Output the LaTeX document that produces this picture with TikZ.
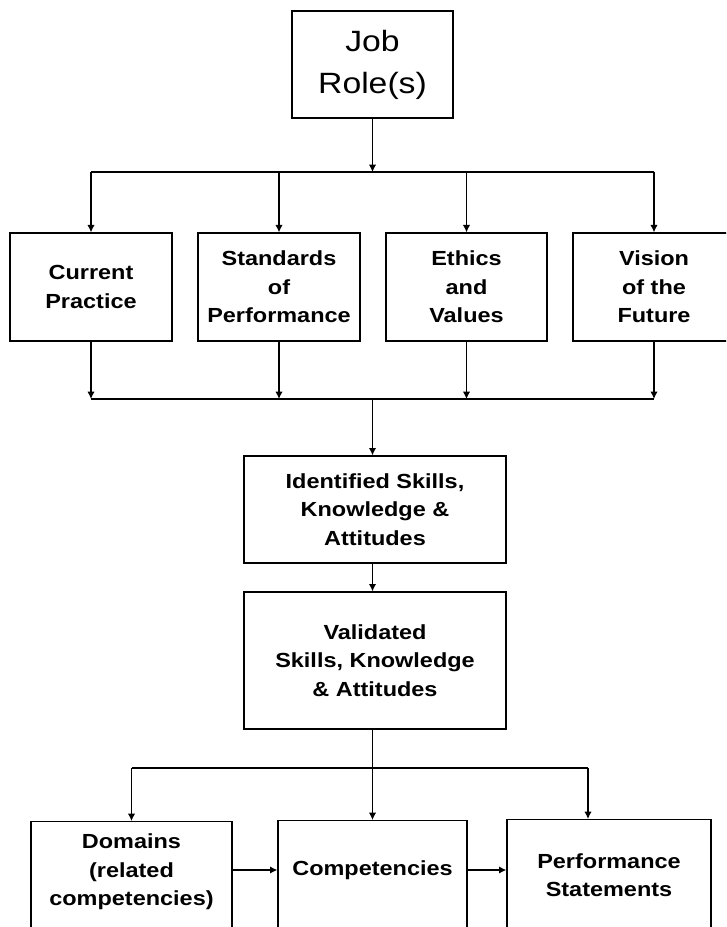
\documentclass[tikz,border=0pt]{standalone}
\usepackage{fontspec}
\setmainfont[FakeStretch=1.15]{Liberation Sans}
\usetikzlibrary{arrows.meta}
\begin{document}
\begin{tikzpicture}[x=0.75pt,y=-0.75pt,
  box/.style={draw,line width=1pt,inner sep=0pt,align=center,font=\fontsize{15.3}{21.4}\selectfont\bfseries},
  lbl/.style={inner sep=0pt,align=center,font=\fontsize{15.3}{21.4}\selectfont\bfseries},
  arr/.style={-{Latex[length=5.5pt,width=5.5pt]},line width=0.9pt},
  ln/.style={line width=0.9pt}]
\useasboundingbox (0,0) rectangle (726,927);
\clip (0,0) rectangle (726,927);
\fill[white] (0,0) rectangle (726,927);
% top
\node[box,minimum width=120.75pt,minimum height=80.25pt,font=\fontsize{22}{31.5}\selectfont] (job) at (372.5,64.5) {Job\\Role(s)};
% four boxes
\node[box,minimum width=121.5pt,minimum height=81pt] (cp) at (91,287) {Current\\Practice};
\node[box,minimum width=121.5pt,minimum height=81pt] (sp) at (279,287) {Standards\\of\\Performance};
\node[box,minimum width=120.75pt,minimum height=81pt] (ev) at (466.5,287) {Ethics\\and\\Values};
\node[box,minimum width=121.5pt,minimum height=81pt] (vf) at (654,287) {Vision\\of the\\Future};
% middle
\node[box,minimum width=196.5pt,minimum height=80.25pt] (ident) at (375,509.5) {Identified Skills,\\Knowledge \&\\Attitudes};
\node[box,minimum width=196.5pt,minimum height=102.75pt] (valid) at (375,660.5) {Validated\\Skills, Knowledge\\\& Attitudes};
% bottom boxes
\node[box,anchor=north,minimum width=150.75pt,minimum height=105pt] (dom) at (131.5,821) {};
\node[box,anchor=north,minimum width=141.75pt,minimum height=105pt] (comp) at (372.5,820) {};
\node[box,anchor=north,minimum width=153pt,minimum height=105pt] (perf) at (609,819) {};
\node[lbl] (domt) at (131.5,872) {Domains\\(related\\competencies)};
\node[lbl] (compt) at (372.5,870) {Competencies};
\node[lbl] (perft) at (609,875) {Performance\\Statements};
% connectors
\coordinate (j1) at (372.5,172);
\draw[arr] (job.south) -- (j1);
\draw[ln] (cp.north |- j1) -- (vf.north |- j1);
\foreach \n in {cp,sp,ev,vf} \draw[arr] (\n.north |- j1) -- (\n.north);
\coordinate (j2) at (372.5,399);
\foreach \n in {cp,sp,ev,vf} \draw[arr] (\n.south) -- (\n.south |- j2);
\draw[ln] (cp.south |- j2) -- (vf.south |- j2);
\draw[arr] (j2) -- (j2 |- ident.north);
\draw[arr] (ident.south -| j2) -- (valid.north -| j2);
\coordinate (j3) at (372.5,768);
\coordinate (j4) at (588,768);
\draw[ln] (valid.south -| j3) -- (j3);
\draw[ln] (dom.north |- j3) -- (j4);
\draw[arr] (j3) -- (j3 |- comp.north);
\draw[arr] (dom.north |- j3) -- (dom.north);
\draw[arr] (j4) -- (j4 |- perf.north);
\coordinate (h) at (0,870);
\draw[arr] (h -| dom.east) -- (h -| comp.west);
\draw[arr] (h -| comp.east) -- (h -| perf.west);
\end{tikzpicture}
\end{document}
